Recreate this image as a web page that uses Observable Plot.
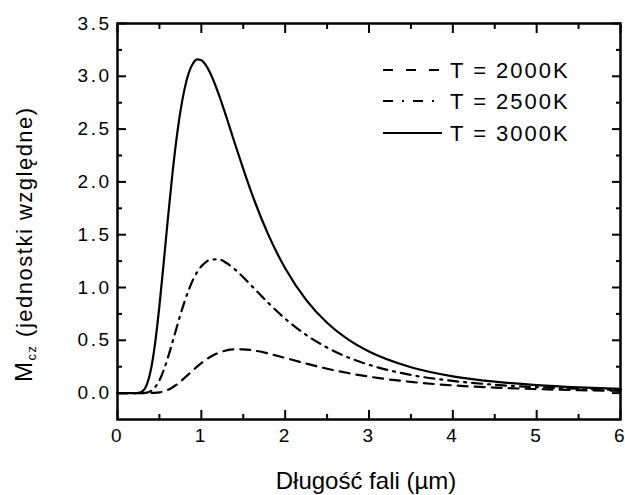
<!DOCTYPE html>
<html><head><meta charset="utf-8">
<script src="https://cdn.jsdelivr.net/npm/d3@7"></script>
<script src="https://cdn.jsdelivr.net/npm/@observablehq/plot@0.6"></script>
<style>
body{margin:0;background:#fff}
svg{font-family:"Liberation Sans",Arial,sans-serif}
</style>
</head><body><div id="chart"></div>
<script>
const wavelength = [0,0.1,0.2,0.25,0.3,0.35,0.4,0.45,0.5,0.55,0.6,0.65,0.7,0.75,0.8,0.85,0.9,0.95,1.0,1.05,1.1,1.2,1.3,1.4,1.5,1.6,1.8,2.0,2.25,2.5,2.75,3.0,3.5,4.0,4.5,5.0,5.5,6.0];
const m2000 = [0,0,0,0,0,0,0.001,0.002,0.007,0.016,0.030,0.051,0.077,0.109,0.144,0.180,0.216,0.251,0.284,0.314,0.340,0.379,0.404,0.415,0.415,0.407,0.375,0.333,0.280,0.231,0.190,0.156,0.106,0.073,0.052,0.038,0.028,0.021];
const m2500 = [0,0,0,0,0.001,0.005,0.021,0.057,0.121,0.214,0.332,0.466,0.605,0.742,0.867,0.978,1.072,1.146,1.201,1.239,1.261,1.267,1.232,1.172,1.097,1.016,0.853,0.705,0.551,0.431,0.338,0.268,0.172,0.115,0.079,0.056,0.041,0.030];
const m3000 = [0,0,0,0.002,0.018,0.081,0.229,0.481,0.826,1.227,1.642,2.037,2.383,2.666,2.881,3.033,3.121,3.160,3.152,3.110,3.040,2.846,2.612,2.364,2.123,1.894,1.498,1.182,0.883,0.666,0.509,0.394,0.245,0.159,0.108,0.075,0.054,0.040];
const seriesNames = ["T = 2000K","T = 2500K","T = 3000K"];
const xTicks = [0,1,2,3,4,5,6];
const xMinor = [0.5,1.5,2.5,3.5,4.5,5.5];
const yTicks = [0,0.5,1.0,1.5,2.0,2.5,3.0,3.5];
const yMinor = [0.25,0.75,1.25,1.75,2.25,2.75,3.25];
const xTitle = "Długość fali (µm)";
const yTitleMain = "M";
const yTitleSub = "cz";
const yTitleRest = " (jednostki względne)";

const seriesValues = [m2000, m2500, m3000];
const dashes = ["10,7", "10,6,2,6", null];
const legendDashes = ["10,13", "10,9,2,9", null];

const lineMarks = seriesValues.map((vals, k) => Plot.line(
  wavelength.map((w, i) => ({w, m: vals[i]})),
  {x: "w", y: "m", stroke: "black", strokeWidth: 2.2, strokeDasharray: dashes[k], curve: "monotone-x"}
));

const blank = () => "";
const plot = Plot.plot({
  width: 625, height: 495,
  marginLeft: 117, marginRight: 5, marginTop: 23, marginBottom: 76,
  x: {domain: [0, 6], label: null},
  y: {domain: [-0.25, 3.5], label: null},
  style: {fontFamily: "Liberation Sans, Arial, sans-serif", fontSize: "19px", color: "black", background: "white"},
  marks: [
    ...lineMarks,
    Plot.frame({stroke: "black", strokeWidth: 2.5}),
    Plot.axisX({ticks: xTicks, tickSize: -9, tickPadding: 18, tickFormat: d => String(d), label: null, strokeWidth: 2}),
    Plot.axisX({ticks: xMinor, tickSize: -5, tickFormat: blank, label: null, strokeWidth: 2}),
    Plot.axisX({anchor: "top", ticks: xTicks, tickSize: -9, tickFormat: blank, label: null, strokeWidth: 2}),
    Plot.axisX({anchor: "top", ticks: xMinor, tickSize: -5, tickFormat: blank, label: null, strokeWidth: 2}),
    Plot.axisY({ticks: yTicks, tickSize: -9, tickPadding: 15, tickFormat: d3.format(".1f"), label: null, strokeWidth: 2}),
    Plot.axisY({ticks: yMinor, tickSize: -5, tickFormat: blank, label: null, strokeWidth: 2}),
    Plot.axisY({anchor: "right", ticks: yTicks, tickSize: -9, tickFormat: blank, label: null, strokeWidth: 2}),
    Plot.axisY({anchor: "right", ticks: yMinor, tickSize: -5, tickFormat: blank, label: null, strokeWidth: 2})
  ]
});

const svg = d3.select(plot);
svg.selectAll("text").attr("font-size", 19).attr("letter-spacing", "2.5px");

// legend
const legY = [70, 101, 133];
seriesNames.forEach((name, k) => {
  svg.append("line").attr("x1", 383).attr("x2", 442).attr("y1", legY[k]).attr("y2", legY[k])
    .attr("stroke", "black").attr("stroke-width", 2.2)
    .attr("stroke-dasharray", legendDashes[k]);
  svg.append("text").attr("x", 450).attr("y", legY[k]).attr("dy", "0.36em")
    .attr("text-anchor", "start")
    .attr("font-size", 22).attr("letter-spacing", "2px").attr("fill", "black").text(name);
});

// axis titles
svg.append("text").attr("x", 366).attr("y", 489).attr("text-anchor", "middle")
  .attr("font-size", 24).attr("fill", "black").text(xTitle);

const yt = svg.append("text").attr("transform", "translate(32,382) rotate(-90)")
  .attr("text-anchor", "start")
  .attr("font-size", 22).attr("letter-spacing", "1.5px").attr("fill", "black");
yt.append("tspan").attr("font-size", 24).text(yTitleMain);
yt.append("tspan").attr("font-size", 13).attr("dy", 4).text(yTitleSub);
yt.append("tspan").attr("dy", -4).text(yTitleRest);

document.getElementById("chart").appendChild(plot);
</script>
</body></html>
